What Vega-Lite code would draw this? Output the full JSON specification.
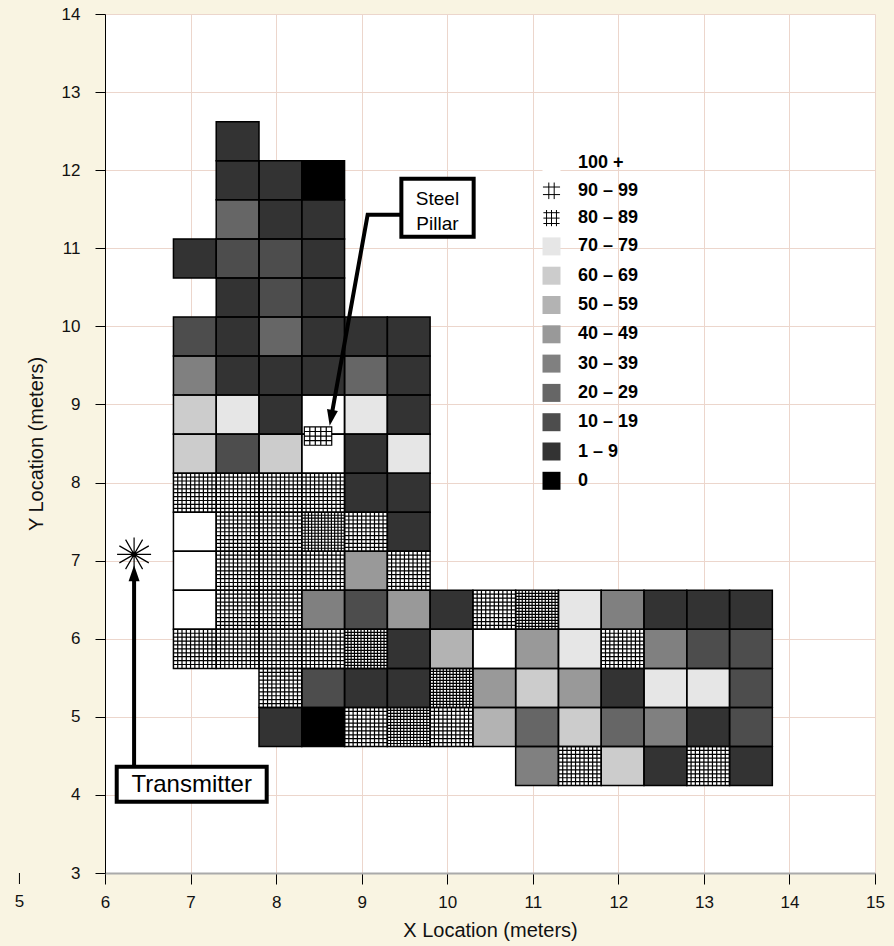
{
  "$schema": "https://vega.github.io/schema/vega-lite/v6.json",
  "width": 770,
  "height": 859,
  "autosize": "none",
  "padding": {"left": 105, "top": 14, "right": 19, "bottom": 73},
  "background": "#f9f4e2",
  "config": {
    "view": {"stroke": null, "fill": "#ffffff"},
    "font": "Liberation Sans",
    "axis": {
      "labelFont": "Liberation Sans",
      "titleFont": "Liberation Sans",
      "labelFontSize": 17,
      "titleFontSize": 20,
      "titleFontWeight": "normal",
      "labelColor": "#111111",
      "titleColor": "#111111",
      "tickColor": "#000000",
      "tickSize": 11,
      "gridColor": "#ecd6cc",
      "gridWidth": 1,
      "labelFlush": false,
      "labelOverlap": false,
      "labelBound": false
    },
    "legend": {
      "orient": "none",
      "legendX": 437,
      "legendY": 139,
      "padding": 0,
      "symbolSize": 324,
      "symbolStrokeWidth": 1,
      "symbolOpacity": 1,
      "labelFont": "Liberation Sans",
      "labelFontSize": 18,
      "labelFontWeight": "bold",
      "labelColor": "#000000",
      "labelOffset": 17,
      "rowPadding": 6.3
    }
  },
  "datasets": {
    "cells": [
      {"x": 7.55, "y": 12.37, "level": "1 – 9"},
      {"x": 7.55, "y": 11.87, "level": "1 – 9"},
      {"x": 8.05, "y": 11.87, "level": "1 – 9"},
      {"x": 8.55, "y": 11.87, "level": "0"},
      {"x": 7.55, "y": 11.37, "level": "20 – 29"},
      {"x": 8.05, "y": 11.37, "level": "1 – 9"},
      {"x": 8.55, "y": 11.37, "level": "1 – 9"},
      {"x": 7.05, "y": 10.87, "level": "1 – 9"},
      {"x": 7.55, "y": 10.87, "level": "10 – 19"},
      {"x": 8.05, "y": 10.87, "level": "10 – 19"},
      {"x": 8.55, "y": 10.87, "level": "1 – 9"},
      {"x": 7.55, "y": 10.37, "level": "1 – 9"},
      {"x": 8.05, "y": 10.37, "level": "10 – 19"},
      {"x": 8.55, "y": 10.37, "level": "1 – 9"},
      {"x": 7.05, "y": 9.87, "level": "10 – 19"},
      {"x": 7.55, "y": 9.87, "level": "1 – 9"},
      {"x": 8.05, "y": 9.87, "level": "20 – 29"},
      {"x": 8.55, "y": 9.87, "level": "1 – 9"},
      {"x": 9.05, "y": 9.87, "level": "1 – 9"},
      {"x": 9.55, "y": 9.87, "level": "1 – 9"},
      {"x": 7.05, "y": 9.37, "level": "30 – 39"},
      {"x": 7.55, "y": 9.37, "level": "1 – 9"},
      {"x": 8.05, "y": 9.37, "level": "1 – 9"},
      {"x": 8.55, "y": 9.37, "level": "1 – 9"},
      {"x": 9.05, "y": 9.37, "level": "20 – 29"},
      {"x": 9.55, "y": 9.37, "level": "1 – 9"},
      {"x": 7.05, "y": 8.87, "level": "60 – 69"},
      {"x": 7.55, "y": 8.87, "level": "70 – 79"},
      {"x": 8.05, "y": 8.87, "level": "1 – 9"},
      {"x": 8.55, "y": 8.87, "level": "100 +"},
      {"x": 9.05, "y": 8.87, "level": "70 – 79"},
      {"x": 9.55, "y": 8.87, "level": "1 – 9"},
      {"x": 7.05, "y": 8.37, "level": "60 – 69"},
      {"x": 7.55, "y": 8.37, "level": "10 – 19"},
      {"x": 8.05, "y": 8.37, "level": "60 – 69"},
      {"x": 8.55, "y": 8.37, "level": "100 +"},
      {"x": 9.05, "y": 8.37, "level": "1 – 9"},
      {"x": 9.55, "y": 8.37, "level": "70 – 79"},
      {"x": 7.05, "y": 7.87, "level": "90 – 99"},
      {"x": 7.55, "y": 7.87, "level": "90 – 99"},
      {"x": 8.05, "y": 7.87, "level": "90 – 99"},
      {"x": 8.55, "y": 7.87, "level": "90 – 99"},
      {"x": 9.05, "y": 7.87, "level": "1 – 9"},
      {"x": 9.55, "y": 7.87, "level": "1 – 9"},
      {"x": 7.05, "y": 7.37, "level": "100 +"},
      {"x": 7.55, "y": 7.37, "level": "90 – 99"},
      {"x": 8.05, "y": 7.37, "level": "90 – 99"},
      {"x": 8.55, "y": 7.37, "level": "80 – 89"},
      {"x": 9.05, "y": 7.37, "level": "90 – 99"},
      {"x": 9.55, "y": 7.37, "level": "1 – 9"},
      {"x": 7.05, "y": 6.87, "level": "100 +"},
      {"x": 7.55, "y": 6.87, "level": "90 – 99"},
      {"x": 8.05, "y": 6.87, "level": "90 – 99"},
      {"x": 8.55, "y": 6.87, "level": "90 – 99"},
      {"x": 9.05, "y": 6.87, "level": "40 – 49"},
      {"x": 9.55, "y": 6.87, "level": "90 – 99"},
      {"x": 7.05, "y": 6.37, "level": "100 +"},
      {"x": 7.55, "y": 6.37, "level": "90 – 99"},
      {"x": 8.05, "y": 6.37, "level": "90 – 99"},
      {"x": 8.55, "y": 6.37, "level": "30 – 39"},
      {"x": 9.05, "y": 6.37, "level": "10 – 19"},
      {"x": 9.55, "y": 6.37, "level": "40 – 49"},
      {"x": 10.05, "y": 6.37, "level": "1 – 9"},
      {"x": 10.55, "y": 6.37, "level": "90 – 99"},
      {"x": 11.05, "y": 6.37, "level": "80 – 89"},
      {"x": 11.55, "y": 6.37, "level": "70 – 79"},
      {"x": 12.05, "y": 6.37, "level": "30 – 39"},
      {"x": 12.55, "y": 6.37, "level": "1 – 9"},
      {"x": 13.05, "y": 6.37, "level": "1 – 9"},
      {"x": 13.55, "y": 6.37, "level": "1 – 9"},
      {"x": 7.05, "y": 5.87, "level": "90 – 99"},
      {"x": 7.55, "y": 5.87, "level": "90 – 99"},
      {"x": 8.05, "y": 5.87, "level": "90 – 99"},
      {"x": 8.55, "y": 5.87, "level": "90 – 99"},
      {"x": 9.05, "y": 5.87, "level": "80 – 89"},
      {"x": 9.55, "y": 5.87, "level": "1 – 9"},
      {"x": 10.05, "y": 5.87, "level": "50 – 59"},
      {"x": 10.55, "y": 5.87, "level": "100 +"},
      {"x": 11.05, "y": 5.87, "level": "40 – 49"},
      {"x": 11.55, "y": 5.87, "level": "70 – 79"},
      {"x": 12.05, "y": 5.87, "level": "90 – 99"},
      {"x": 12.55, "y": 5.87, "level": "30 – 39"},
      {"x": 13.05, "y": 5.87, "level": "10 – 19"},
      {"x": 13.55, "y": 5.87, "level": "10 – 19"},
      {"x": 8.05, "y": 5.37, "level": "90 – 99"},
      {"x": 8.55, "y": 5.37, "level": "10 – 19"},
      {"x": 9.05, "y": 5.37, "level": "1 – 9"},
      {"x": 9.55, "y": 5.37, "level": "1 – 9"},
      {"x": 10.05, "y": 5.37, "level": "80 – 89"},
      {"x": 10.55, "y": 5.37, "level": "40 – 49"},
      {"x": 11.05, "y": 5.37, "level": "60 – 69"},
      {"x": 11.55, "y": 5.37, "level": "40 – 49"},
      {"x": 12.05, "y": 5.37, "level": "1 – 9"},
      {"x": 12.55, "y": 5.37, "level": "70 – 79"},
      {"x": 13.05, "y": 5.37, "level": "70 – 79"},
      {"x": 13.55, "y": 5.37, "level": "10 – 19"},
      {"x": 8.05, "y": 4.87, "level": "1 – 9"},
      {"x": 8.55, "y": 4.87, "level": "0"},
      {"x": 9.05, "y": 4.87, "level": "90 – 99"},
      {"x": 9.55, "y": 4.87, "level": "80 – 89"},
      {"x": 10.05, "y": 4.87, "level": "90 – 99"},
      {"x": 10.55, "y": 4.87, "level": "50 – 59"},
      {"x": 11.05, "y": 4.87, "level": "20 – 29"},
      {"x": 11.55, "y": 4.87, "level": "60 – 69"},
      {"x": 12.05, "y": 4.87, "level": "20 – 29"},
      {"x": 12.55, "y": 4.87, "level": "30 – 39"},
      {"x": 13.05, "y": 4.87, "level": "1 – 9"},
      {"x": 13.55, "y": 4.87, "level": "10 – 19"},
      {"x": 11.05, "y": 4.37, "level": "30 – 39"},
      {"x": 11.55, "y": 4.37, "level": "90 – 99"},
      {"x": 12.05, "y": 4.37, "level": "60 – 69"},
      {"x": 12.55, "y": 4.37, "level": "1 – 9"},
      {"x": 13.05, "y": 4.37, "level": "90 – 99"},
      {"x": 13.55, "y": 4.37, "level": "1 – 9"}
    ],
    "pillar": [{"x": 8.49, "y": 8.595}],
    "leaders": [
      {"id": "pillar", "k": 0, "x": 9.464, "y": 11.43},
      {"id": "pillar", "k": 1, "x": 9.07, "y": 11.43},
      {"id": "pillar", "k": 2, "x": 8.645, "y": 8.84},
      {"id": "transmitter", "k": 0, "x": 6.34, "y": 4.36},
      {"id": "transmitter", "k": 1, "x": 6.34, "y": 6.85}
    ],
    "tips": [
      {"id": "pillar", "x": 8.626, "y": 8.728},
      {"id": "transmitter", "x": 6.34, "y": 6.94}
    ],
    "transmitter": [{"x": 6.34, "y": 7.08}],
    "boxes": [
      {"label": "Steel\nPillar", "x": 9.464, "x2": 10.309, "y": 11.148, "y2": 11.891, "tx": 9.886, "ty": 11.63},
      {"label": "Transmitter", "x": 6.137, "x2": 7.89, "y": 3.913, "y2": 4.361, "tx": 7.013, "ty": 4.13}
    ],
    "outer_tick": [{"x": 5, "y": 3}]
  },
  "encoding": {
    "x": {
      "field": "x",
      "type": "quantitative",
      "scale": {"domain": [6, 15], "nice": false, "zero": false},
      "axis": {
        "title": "X Location (meters)",
        "values": [6, 7, 8, 9, 10, 11, 12, 13, 14, 15],
        "domainColor": "#aaaaaa",
        "domainWidth": 2,
        "labelPadding": 10,
        "titlePadding": 10
      }
    },
    "y": {
      "field": "y",
      "type": "quantitative",
      "scale": {"domain": [3, 14], "nice": false, "zero": false},
      "axis": {
        "title": "Y Location (meters)",
        "values": [3, 4, 5, 6, 7, 8, 9, 10, 11, 12, 13, 14],
        "domainColor": "#000000",
        "domainWidth": 1,
        "tickSize": 10,
        "labelPadding": 15,
        "titlePadding": 15
      }
    }
  },
  "layer": [
    {
      "data": {"name": "cells"},
      "mark": {
        "type": "point",
        "shape": "M-1,-0.913H1V0.913H-1Z",
        "size": 1830,
        "filled": true,
        "opacity": 1,
        "strokeWidth": 0
      },
      "encoding": {
        "fill": {
          "field": "level",
          "type": "nominal",
          "scale": {
            "domain": ["100 +", "90 – 99", "80 – 89", "70 – 79", "60 – 69", "50 – 59", "40 – 49", "30 – 39", "20 – 29", "10 – 19", "1 – 9", "0"],
            "range": ["#ffffff", "#ffffff", "#ffffff", "#e6e6e6", "#cccccc", "#b3b3b3", "#999999", "#808080", "#666666", "#4d4d4d", "#333333", "#000000"]
          },
          "legend": {"title": null}
        }
      }
    },
    {
      "data": {"name": "cells"},
      "transform": [{"filter": {"field": "level", "oneOf": ["90 – 99", "80 – 89"]}}],
      "mark": {
        "type": "point",
        "size": 1830,
        "filled": false,
        "opacity": 1,
        "color": "#000000",
        "stroke": "#000000",
        "strokeWidth": 1.2
      },
      "encoding": {
        "shape": {
          "condition": {
            "test": "datum.level === '80 – 89'",
            "value": "M-0.846,-0.913V0.913M-0.692,-0.913V0.913M-0.538,-0.913V0.913M-0.385,-0.913V0.913M-0.231,-0.913V0.913M-0.077,-0.913V0.913M0.077,-0.913V0.913M0.231,-0.913V0.913M0.385,-0.913V0.913M0.538,-0.913V0.913M0.692,-0.913V0.913M0.846,-0.913V0.913M-1,-0.772H1M-1,-0.632H1M-1,-0.491H1M-1,-0.351H1M-1,-0.21H1M-1,-0.07H1M-1,0.07H1M-1,0.21H1M-1,0.351H1M-1,0.491H1M-1,0.632H1M-1,0.772H1"
          },
          "value": "M-0.8,-0.913V0.913M-0.6,-0.913V0.913M-0.4,-0.913V0.913M-0.2,-0.913V0.913M0,-0.913V0.913M0.2,-0.913V0.913M0.4,-0.913V0.913M0.6,-0.913V0.913M0.8,-0.913V0.913M-1,-0.73H1M-1,-0.548H1M-1,-0.365H1M-1,-0.183H1M-1,0H1M-1,0.183H1M-1,0.365H1M-1,0.548H1M-1,0.73H1"
        }
      }
    },
    {
      "data": {"name": "cells"},
      "mark": {
        "type": "point",
        "shape": "M-1,-0.913H1V0.913H-1Z",
        "size": 1830,
        "filled": false,
        "opacity": 1,
        "color": "#000000",
        "stroke": "#000000",
        "strokeWidth": 1.5
      }
    },
    {
      "data": {"name": "cells"},
      "mark": {"type": "point", "size": 0, "filled": false, "opacity": 1, "strokeWidth": 1},
      "encoding": {
        "shape": {
          "field": "level",
          "type": "nominal",
          "scale": {
            "domain": ["100 +", "90 – 99", "80 – 89", "70 – 79", "60 – 69", "50 – 59", "40 – 49", "30 – 39", "20 – 29", "10 – 19", "1 – 9", "0"],
            "range": [
              "square",
              "M-0.3,-0.92V0.92M0.3,-0.92V0.92M-0.95,-0.42H0.95M-0.95,0.42H0.95",
              "M-0.55,-0.9V0.9M0,-0.9V0.9M0.55,-0.9V0.9M-0.9,-0.6H0.9M-0.9,0H0.9M-0.9,0.6H0.9",
              "square", "square", "square", "square", "square", "square", "square", "square", "square"
            ]
          },
          "legend": {"title": null}
        },
        "stroke": {
          "field": "level",
          "type": "nominal",
          "scale": {
            "domain": ["100 +", "90 – 99", "80 – 89", "70 – 79", "60 – 69", "50 – 59", "40 – 49", "30 – 39", "20 – 29", "10 – 19", "1 – 9", "0"],
            "range": ["transparent", "#000000", "#000000", "transparent", "transparent", "transparent", "transparent", "transparent", "transparent", "transparent", "transparent", "transparent"]
          },
          "legend": {"title": null}
        }
      }
    },
    {
      "data": {"name": "pillar"},
      "mark": {
        "type": "point",
        "shape": "M-1,-0.668H1V0.668H-1ZM-0.6,-0.668V0.668M-0.2,-0.668V0.668M0.2,-0.668V0.668M0.6,-0.668V0.668M-1,-0.334H1M-1,0H1M-1,0.334H1",
        "size": 751,
        "filled": true,
        "opacity": 1,
        "fill": "#ffffff",
        "stroke": "#000000",
        "strokeWidth": 1.2
      }
    },
    {
      "data": {"name": "leaders"},
      "mark": {"type": "line", "color": "#000000", "strokeWidth": 4, "strokeJoin": "miter", "strokeCap": "butt"},
      "encoding": {
        "detail": {"field": "id", "type": "nominal"},
        "order": {"field": "k", "type": "quantitative"}
      }
    },
    {
      "data": {"name": "tips"},
      "mark": {
        "type": "point",
        "shape": "M0,0L0.55,1.6L-0.55,1.6Z",
        "size": 400,
        "filled": true,
        "opacity": 1,
        "color": "#000000"
      },
      "encoding": {
        "angle": {"condition": {"test": "datum.id === 'pillar'", "value": 190}, "value": 0}
      }
    },
    {
      "data": {"name": "transmitter"},
      "mark": {
        "type": "point",
        "shape": "M-1,0H1M0,-1V1M-0.866,-0.5L0.866,0.5M-0.866,0.5L0.866,-0.5M-0.5,-0.866L0.5,0.866M-0.5,0.866L0.5,-0.866",
        "size": 1156,
        "filled": false,
        "opacity": 1,
        "color": "#000000",
        "strokeWidth": 1.2
      }
    },
    {
      "data": {"name": "transmitter"},
      "mark": {"type": "point", "shape": "circle", "size": 28, "filled": true, "opacity": 1, "color": "#000000"}
    },
    {
      "data": {"name": "boxes"},
      "mark": {"type": "rect", "fill": "#ffffff", "stroke": "#000000", "strokeWidth": 4, "strokeJoin": "miter"},
      "encoding": {
        "x2": {"field": "x2"},
        "y2": {"field": "y2"}
      }
    },
    {
      "data": {"name": "boxes"},
      "mark": {"type": "text", "align": "center", "baseline": "middle", "lineBreak": "\n", "lineHeight": 25, "font": "Liberation Sans", "color": "#000000"},
      "encoding": {
        "x": {"field": "tx", "type": "quantitative"},
        "y": {"field": "ty", "type": "quantitative"},
        "text": {"field": "label"},
        "size": {"condition": {"test": "datum.label === 'Transmitter'", "value": 24}, "value": 19}
      }
    },
    {
      "data": {"name": "outer_tick"},
      "mark": {"type": "rule", "color": "#000000", "strokeWidth": 1, "y2Offset": 11, "clip": false},
      "encoding": {
        "y2": {"field": "y"}
      }
    },
    {
      "data": {"name": "outer_tick"},
      "mark": {"type": "text", "align": "center", "baseline": "top", "dy": 21, "fontSize": 17, "font": "Liberation Sans", "color": "#111111", "clip": false},
      "encoding": {
        "text": {"field": "x", "type": "quantitative"}
      }
    }
  ]
}
